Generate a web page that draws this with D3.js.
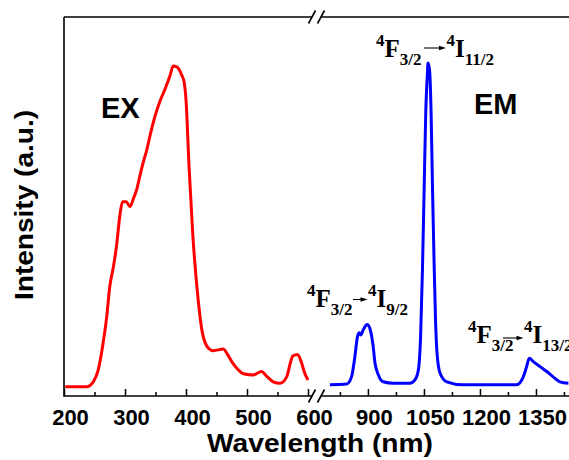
<!DOCTYPE html>
<html>
<head>
<meta charset="utf-8">
<script src="https://cdn.jsdelivr.net/npm/d3@7"></script>
<style>
  body { margin: 0; background: #fff; }
  svg { display: block; }
  .tick text { font-family: "Liberation Sans", Arial, sans-serif; font-weight: bold; font-size: 22px; fill: #000; }
  .tick line { stroke: #000; stroke-width: 1.5; }
  .title { font-family: "Liberation Sans", Arial, sans-serif; font-weight: bold; fill: #000; }
  .level { font-family: "Liberation Serif", "Times New Roman", serif; font-weight: bold; font-size: 25px; fill: #000; }
  .level .small { font-size: 17px; }
</style>
</head>
<body>
<div id="chart"></div>
<script>
// excitation spectrum (red)
const exWavelength = [202, 237, 248, 256, 264, 270, 275, 281, 286, 292, 296, 302, 308, 314, 319,
  325, 330, 336, 341, 349, 357, 366, 374, 379, 385, 393, 397, 400, 405, 411, 420, 427, 437, 445,
  461, 467, 475, 483, 494, 510, 524, 532, 543, 554, 565, 571, 575, 583, 589, 595, 600];
const exIntensity = [2.7, 2.7, 4.0, 7.1, 14.1, 21.1, 29.0, 34.3, 39.6, 48.3, 51.4, 51.4, 50.1, 52.3, 54.5,
  58.6, 61.8, 65.2, 68.8, 73.8, 77.7, 81.2, 84.7, 87.1, 86.9, 84.7, 82.8, 78.2, 60.6, 43.1, 25.5, 16.8, 12.8, 12.2,
  12.6, 11.5, 9.3, 7.6, 6.1, 5.8, 6.7, 5.5, 4.0, 3.6, 5.3, 8.9, 10.8, 11.2, 9.2, 6.1, 4.5];

// emission spectrum (blue)
const emWavelength = [798, 843, 856, 865, 872, 877, 881, 887, 898, 905, 913, 919, 928, 941, 968,
  1012, 1026, 1035, 1041, 1046, 1051, 1055, 1059, 1061, 1065, 1069, 1073, 1077, 1081, 1085, 1093,
  1111, 1155, 1227, 1298, 1316, 1325, 1332, 1343, 1361, 1379, 1396, 1414, 1437];
const emIntensity = [3.2, 3.4, 5.3, 10.6, 15.9, 16.9, 16.3, 17.6, 19.1, 18.1, 14.1, 8.9, 5.8, 4.0, 3.6,
  3.6, 4.5, 7.1, 15.9, 33.4, 57.1, 75.5, 84.7, 87.9, 86.1, 75.5, 54.5, 36.1, 20.3, 11.6, 6.3,
  4.0, 3.2, 3.2, 3.2, 5.3, 8.0, 10.2, 9.3, 8.0, 6.7, 5.3, 4.0, 3.6];

const leftMajor = [200, 300, 400, 500, 600];
const leftMinor = [250, 350, 450, 550];
const rightMajor = [900, 1050, 1200, 1350];
const rightMinor = [825, 975, 1125, 1275, 1425];

const width = 569, height = 460;
const frame = {left: 64, top: 17, bottom: 396, right: 569, breakA: 312, breakB: 321};

const svg = d3.select('#chart').append('svg')
    .attr('width', width)
    .attr('height', height);

const xLeft = d3.scaleLinear().domain([200, 600]).range([64, 308]);
const xRight = d3.scaleLinear().domain([785, 1450]).range([325, 573.3]);
const y = d3.scaleLinear().domain([0, 100]).range([397, 17]);

function drawAxis(scale, major, minor) {
    const gMinor = svg.append('g')
        .attr('transform', `translate(0,${frame.bottom})`)
        .call(d3.axisBottom(scale).tickValues(minor).tickSize(-4).tickFormat(''));
    gMinor.select('.domain').remove();

    const gMajor = svg.append('g')
        .attr('transform', `translate(0,${frame.bottom})`)
        .call(d3.axisBottom(scale).tickValues(major).tickSize(-7).tickPadding(13).tickFormat(d3.format('d')));
    gMajor.select('.domain').remove();
    gMajor.selectAll('text').attr('dx', 6);
}
drawAxis(xLeft, leftMajor, leftMinor);
drawAxis(xRight, rightMajor, rightMinor);

// frame with axis break
const border = svg.append('g').attr('stroke', '#000').attr('stroke-width', 1.6).attr('fill', 'none');
border.append('line').attr('x1', frame.left).attr('x2', frame.left).attr('y1', frame.top).attr('y2', frame.bottom + 0.8);
[frame.top, frame.bottom].forEach(yy => {
    border.append('line').attr('x1', frame.left).attr('x2', frame.breakA).attr('y1', yy).attr('y2', yy);
    border.append('line').attr('x1', frame.breakB).attr('x2', frame.right).attr('y1', yy).attr('y2', yy);
    [frame.breakA, frame.breakB].forEach(bx => {
        border.append('line')
            .attr('x1', bx - 3.5).attr('y1', yy + 6.5)
            .attr('x2', bx + 3.5).attr('y2', yy - 6.5);
    });
});

const exLine = d3.line()
    .x((d, i) => xLeft(exWavelength[i]))
    .y(d => y(d))
    .curve(d3.curveMonotoneX);
const emLine = d3.line()
    .x((d, i) => xRight(emWavelength[i]))
    .y(d => y(d))
    .curve(d3.curveMonotoneX);

svg.append('path').datum(exIntensity)
    .attr('d', exLine)
    .attr('fill', 'none').attr('stroke', '#ff0000').attr('stroke-width', 3)
    .attr('stroke-linejoin', 'round');
svg.append('path').datum(emIntensity)
    .attr('d', emLine)
    .attr('fill', 'none').attr('stroke', '#0000ff').attr('stroke-width', 3)
    .attr('stroke-linejoin', 'round');

// titles
svg.append('text').attr('class', 'title')
    .attr('x', 320).attr('y', 452)
    .attr('text-anchor', 'middle')
    .attr('font-size', 26)
    .attr('textLength', 226).attr('lengthAdjust', 'spacingAndGlyphs')
    .text('Wavelength (nm)');
svg.append('text').attr('class', 'title')
    .attr('transform', 'translate(33,205) rotate(-90)')
    .attr('text-anchor', 'middle')
    .attr('font-size', 26)
    .attr('textLength', 190).attr('lengthAdjust', 'spacingAndGlyphs')
    .text('Intensity (a.u.)');

svg.append('text').attr('class', 'title')
    .attr('x', 101).attr('y', 118).attr('font-size', 29)
    .text('EX');
svg.append('text').attr('class', 'title')
    .attr('x', 474).attr('y', 114).attr('font-size', 29)
    .text('EM');

// 4F3/2 -> 4Ix transition labels
function transition(x, yBase, lower, gap, arrowShift, arrowRise) {
    const t = svg.append('text').attr('class', 'level').attr('x', x).attr('y', yBase);
    t.append('tspan').attr('class', 'small').attr('dy', -11).text('4');
    t.append('tspan').attr('dy', 11).text('F');
    const sub = t.append('tspan').attr('class', 'small').attr('dy', 8).text('3/2');
    const sup = t.append('tspan').attr('class', 'small').attr('dx', gap).attr('dy', -19).text('4');
    t.append('tspan').attr('dy', 11).text('I');
    t.append('tspan').attr('class', 'small').attr('dy', 8).text(lower);

    const a = sub.node().getBBox(), b = sup.node().getBBox();
    const x0 = a.x + a.width + arrowShift, x1 = b.x - 0.5, ya = yBase - arrowRise;
    svg.append('line')
        .attr('x1', x0).attr('x2', x1 - 5).attr('y1', ya).attr('y2', ya)
        .attr('stroke', '#000').attr('stroke-width', 1.1);
    svg.append('path')
        .attr('d', `M${x1},${ya} L${x1 - 7},${ya - 2.3} L${x1 - 7},${ya + 2.3} Z`)
        .attr('fill', '#000');
}
transition(376, 57, '11/2', 25, 2.5, 9);
transition(307, 307, '9/2', 15.5, 0.5, 7.5);
transition(468, 343, '13/2', 10.5, -10.5, 5);
</script>
</body>
</html>
